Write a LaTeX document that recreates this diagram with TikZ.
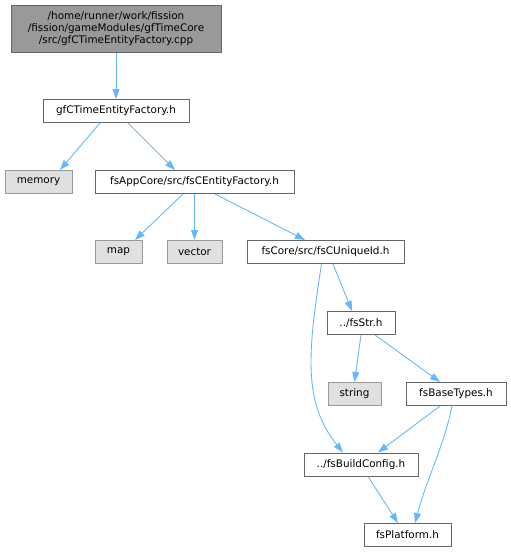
\documentclass[tikz,border=0pt]{standalone}
\usepackage{fontspec}
\setmainfont{DejaVu Sans}
\usepackage{tikz}
\usetikzlibrary{arrows.meta,positioning}
\definecolor{edgeblue}{RGB}{99,184,255}
\definecolor{rootgray}{RGB}{153,153,153}
\definecolor{extgray}{RGB}{224,224,224}
\definecolor{boxline}{RGB}{102,102,102}

\begin{document}
\begin{tikzpicture}[x=1pt, y=-1pt,
  filebox/.style={draw=boxline, fill=white, line width=1pt, font=\fontsize{10.4}{11.7}\selectfont, inner sep=0pt, minimum height=23pt, align=center},
  extbox/.style={filebox, draw=rootgray, fill=extgray},
  rootbox/.style={filebox, fill=rootgray, minimum height=47pt},
  edge/.style={draw=edgeblue, line width=0.9pt, -{Stealth[length=10pt, width=7pt, inset=0pt]}}]
\useasboundingbox (0,0) rectangle (511,552);
% Source file
\node[rootbox, minimum width=210pt] (root) at (116,28.5) {/home/runner/work/fission\\/fission/gameModules/gfTimeCore\\/src/gfCTimeEntityFactory.cpp};
% Headers
\node[filebox, minimum width=146pt] (gfc) at (116,111) {gfCTimeEntityFactory.h};
\node[extbox, minimum width=67pt] (memory) at (38.5,182) {memory};
\node[filebox, minimum width=199pt] (appcore) at (194.5,182) {fsAppCore/src/fsCEntityFactory.h};
\node[extbox, minimum width=47pt] (map) at (118.5,252) {map};
\node[extbox, minimum width=55pt] (vector) at (194.5,252) {vector};
\node[filebox, minimum width=157pt] (uid) at (325.5,252) {fsCore/src/fsCUniqueId.h};
\node[filebox, minimum width=68pt] (fsstr) at (361,323) {../fsStr.h};
\node[extbox, minimum width=53pt] (string) at (354.5,394) {string};
\node[filebox, minimum width=100pt] (basetypes) at (456,394) {fsBaseTypes.h};
\node[filebox, minimum width=114pt] (buildcfg) at (361,464.5) {../fsBuildConfig.h};
\node[filebox, minimum width=87pt] (platform) at (407.5,535) {fsPlatform.h};
% Includes
\draw[edge] (root.south) -- (gfc.north);
\draw[edge] ([xshift=-16pt]gfc.south) -- ([xshift=21.5pt]memory.north);
\draw[edge] ([xshift=12pt]gfc.south) -- ([xshift=-19.5pt]appcore.north);
\draw[edge] ([xshift=-11.5pt]appcore.south) -- ([xshift=16.5pt]map.north);
\draw[edge] (appcore.south) -- (vector.north);
\draw[edge] ([xshift=20.5pt]appcore.south) -- ([xshift=-20.5pt]uid.north);
\draw[edge] ([xshift=7.5pt]uid.south) -- ([xshift=-9pt]fsstr.north);
\draw[edge] ([xshift=-4pt]uid.south) .. controls +(-14,90) and +(-40,-50) .. ([xshift=-18pt]buildcfg.north);
\draw[edge] (fsstr.south) -- (string.north);
\draw[edge] ([xshift=14pt]fsstr.south) -- ([xshift=-16pt]basetypes.north);
\draw[edge] ([xshift=-16pt]basetypes.south) -- ([xshift=17pt]buildcfg.north);
\draw[edge] ([xshift=-4pt]basetypes.south) .. controls +(-8,40) and +(12,-45) .. ([xshift=7.5pt]platform.north);
\draw[edge] ([xshift=7pt]buildcfg.south) -- ([xshift=-9.5pt]platform.north);
\end{tikzpicture}
\end{document}
